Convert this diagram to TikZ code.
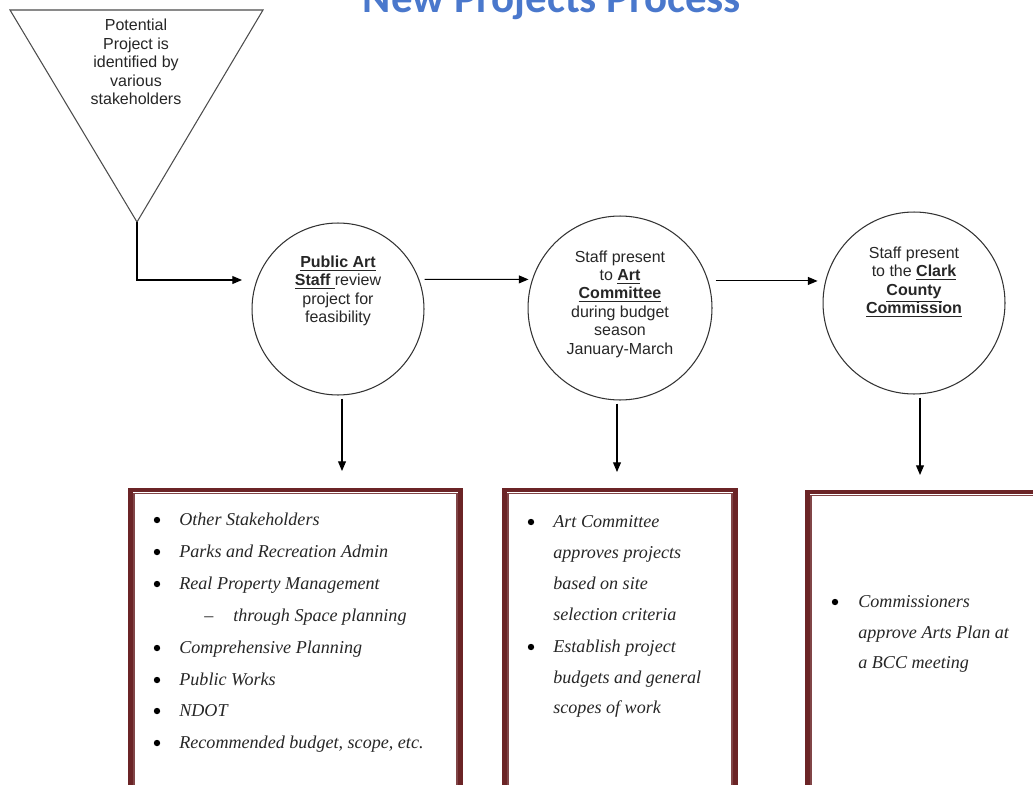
\documentclass[tikz,border=0pt]{standalone}
\usepackage{fontspec}
\setmainfont{Liberation Serif}
\setsansfont{Liberation Sans}
\newfontfamily\titlefont{Carlito}
\usepackage{xcolor}
\usetikzlibrary{positioning,arrows.meta,calc}
\definecolor{frame}{RGB}{107,36,38}
\definecolor{titleblue}{RGB}{74,120,204}

\begin{document}
\begin{tikzpicture}[x=0.02cm, y=-0.02cm,
  stage/.style={circle, draw=black!80, line width=0.6pt, inner sep=0pt},
  note/.style={font=\fontsize{9.1}{10.5}\selectfont\sffamily, text=black!85, align=center, inner sep=0pt},
  arr/.style={-{Triangle[length=5.5pt,width=4.5pt]}, line width=0.6pt},
  item/.style={anchor=base west, inner sep=0pt, font=\fontsize{10.3}{12}\selectfont\itshape, text=black!85},
  panel/.style={draw=frame, line width=2.6pt, inner sep=0pt}]
\clip (0,0) rectangle (1033,784);
% Title (cut off at the top of the page)
\node[anchor=base, font=\titlefont\bfseries\fontsize{24.4}{28}\selectfont, text=titleblue] (title) at (552,13) {New Projects Process};

% Funnel
\coordinate (tl) at (10,10);
\coordinate (tr) at (263,10);
\coordinate (apex) at (137,222);
\draw[black!70, line width=0.6pt] (tl) -- (tr) -- (apex) -- cycle;
\node[note] (idea) at (136,62) {Potential\\Project is\\identified by\\various\\stakeholders};

% Stages
\node[stage, minimum size=3.44cm] (pub) at (338,309) {};
\node[note] (pubtxt) at (338,291) {\underline{\textbf{Public Art}}\\\underline{\textbf{Staff\ }}review\\project for\\feasibility};
\node[stage, minimum size=3.68cm] (com) at (620,308) {};
\node[note] (comtxt) at (620,304) {Staff present\\to \underline{\textbf{Art}}\\\underline{\textbf{Committee}}\\during budget\\season\\January-March};
\node[stage, minimum size=3.64cm] (bcc) at (914,303) {};
\node[note] (bcctxt) at (914,282) {Staff present\\to the \underline{\textbf{Clark}}\\\underline{\textbf{County}}\\\underline{\textbf{Commission}}};

% Panels
\node[panel, minimum width=6.61cm, minimum height=6.2cm] (box1) at (295.5,645) {};
\node[panel, minimum width=4.63cm, minimum height=6.2cm] (box2) at (620,645) {};
\node[panel, minimum width=5.05cm, minimum height=6.2cm] (box3) at (933.6,647) {};
\foreach \b in {box1,box2,box3}
  \draw[frame!85, line width=0.7pt] ($(\b.north west)+(6,6)$) rectangle ($(\b.south east)+(-6,-6)$);

% Connectors
\coordinate (in1) at (242,280);
\draw[arr] (apex) |- (in1);
\draw[arr, shorten <=3pt, shorten >=2pt] (pub.20) -- (com.162);
\draw[arr, shorten <=4pt, shorten >=2.8pt] (com.17) -- (com.17 -| bcc.west);
\coordinate (t1) at (342,471);
\coordinate (t2) at (617,472);
\coordinate (t3) at (920,475);
\draw[arr, shorten <=1.7pt] (t1 |- pub.south) -- (t1);
\draw[arr, shorten <=1.7pt] (t2 |- com.south) -- (t2);
\draw[arr, shorten <=1.7pt] (t3 |- bcc.south) -- (t3);

% Panel texts
\foreach \y/\t in {520/Other Stakeholders, 552/Parks and Recreation Admin, 584/Real Property Management, 648/Comprehensive Planning, 680/Public Works, 711/NDOT, 743/{Recommended budget, scope, etc.}} {
  \fill[black] (157,\y) circle (3.2);
  \node[item] (s\y) at (179,\y+5) {\t};
}
\node[item] (dash1) at (204,621) {--};
\node[item] (sub1) at (233,621) {through Space planning};

\foreach \y in {522,647} \fill[black] (531,\y) circle (3.2);
\foreach \y/\t in {522/Art Committee, 553/approves projects, 584/based on site, 615/selection criteria, 647/Establish project, 678/budgets and general, 708/scopes of work}
  \node[item] (a\y) at (553,\y+5) {\t};

\fill[black] (835,602) circle (3.2);
\foreach \y/\t in {602/Commissioners, 633/approve Arts Plan at, 663/a BCC meeting}
  \node[item] (c\y) at (858,\y+5) {\t};
\end{tikzpicture}
\end{document}
